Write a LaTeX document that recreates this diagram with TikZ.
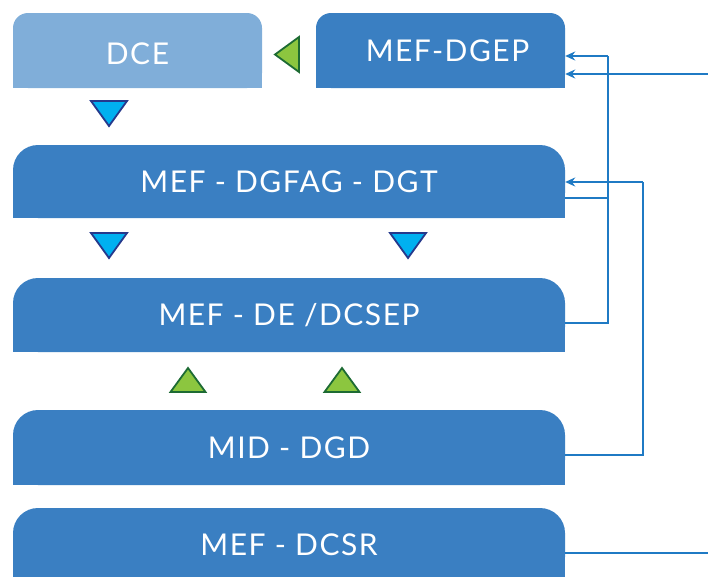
\documentclass[tikz,border=0pt]{standalone}
\usepackage{fontspec}
\setmainfont[LetterSpace=5]{Lato}
\usetikzlibrary{arrows.meta,backgrounds}
\definecolor{boxblue}{HTML}{3A7FC2}
\definecolor{boxlight}{HTML}{80AED9}
\definecolor{connblue}{HTML}{1F7AC4}
\definecolor{tricyan}{HTML}{00B0F0}
\definecolor{trinavy}{HTML}{25398C}
\definecolor{trigreen}{HTML}{8CC63F}
\definecolor{tridkgreen}{HTML}{1D6B33}
\begin{document}
\begin{tikzpicture}[x=1pt,y=1pt,
  box/.style={fill=boxblue, text=white, rounded corners=25pt, minimum width=552pt,
    minimum height=74pt, inner sep=0pt, text height=21.5pt, text depth=0pt,
    font=\fontsize{30}{36}\selectfont},
  smallbox/.style={box, rounded corners=15pt, minimum width=249pt, minimum height=75pt},
  conn/.style={draw=connblue, line width=1.3pt},
  arr/.style={conn, -{Stealth[length=10pt,width=9pt]}},
  downtri/.pic={\draw[fill=tricyan, draw=trinavy, line width=1.8pt, line join=miter]
      (-18,12.5) -- (18,12.5) -- (0,-12.5) -- cycle;},
  uptri/.pic={\draw[fill=trigreen, draw=tridkgreen, line width=1.8pt, line join=miter]
      (-17.5,-12) -- (17.5,-12) -- (0,12) -- cycle;},
  lefttri/.pic={\draw[fill=trigreen, draw=tridkgreen, line width=1.8pt, line join=miter]
      (-12,0) -- (12,17.5) -- (12,-17.5) -- cycle;}
]
\useasboundingbox (0,0) rectangle (708,-576);

% boxes
\node[smallbox, fill=boxlight, text height=28.5pt] (dce) at (137.5,-50.5) {DCE};
\node[smallbox] (dgep) at (440.5,-50.5) {\hspace*{14pt}MEF-DGEP};
\node[box, minimum height=73pt] (dgfag) at (289,-181.5) {MEF - DGFAG - DGT};
\node[box] (de) at (289,-315) {MEF - DE /DCSEP};
\node[box, minimum height=75pt] (mid) at (289,-447.5) {MID - DGD};
\node[box] (dcsr) at (289,-545) {MEF - DCSR};

% sharp bottom corners
\begin{scope}[on background layer]
  \fill[boxlight] (dce.west) rectangle (dce.south east);
  \foreach \n in {dgep,dgfag,de,mid,dcsr}
    \fill[boxblue] (\n.west) rectangle (\n.south east);
\end{scope}

% triangles
\pic at (109,-113.5) {downtri};
\pic at (109,-245.5) {downtri};
\pic at (408,-245.5) {downtri};
\pic at (188,-380) {uptri};
\pic at (342,-380) {uptri};
\pic at (287,-54.5) {lefttri};

% connectors
\coordinate (j1) at (608,-56);
\coordinate (j2) at (643,-182);
\coordinate (in1) at (708,-74);
\coordinate (out1) at (708,-553);
\coordinate (f1) at ([yshift=-16.5pt]dgfag.east);
\coordinate (d1) at ([yshift=-8pt]de.east);
\coordinate (m1) at ([yshift=-7.5pt]mid.east);
\coordinate (s1) at ([yshift=-8pt]dcsr.east);

\draw[arr] (j1) -- (j1 -| dgep.east);
\draw[conn] (j1) |- (d1);
\draw[conn] (f1) -- (f1 -| j1);
\draw[arr] (in1) -- (in1 -| dgep.east);
\draw[arr] (j2) -- (j2 -| dgfag.east);
\draw[conn] (j2) |- (m1);
\draw[conn] (s1) -- (out1);
\end{tikzpicture}
\end{document}
